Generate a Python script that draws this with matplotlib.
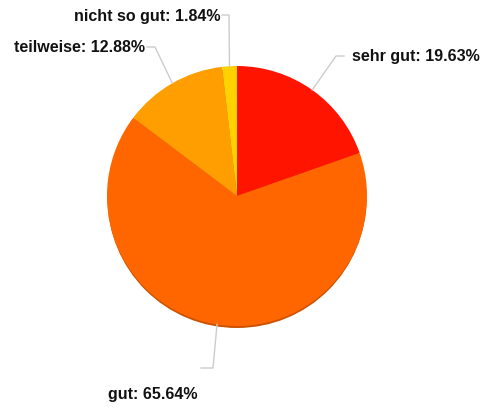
import numpy as np
import matplotlib
matplotlib.use('Agg')
import matplotlib.pyplot as plt
from matplotlib.patches import Circle

labels = ['sehr gut', 'gut', 'teilweise', 'nicht so gut']
values = [19.63, 65.64, 12.88, 1.84]
colors = ['#FF1400', '#FF6600', '#FF9E00', '#FFD200']

# layout in pixel coords (y up), label elbow + text position per slice
W, H = 486, 410
cx, cy, r = 237, 213, 130
elbows = [(336, 353), (213, 41), (155, 362), (229, 394)]
ends = [(344, 353), (201, 41), (147, 362), (222, 394)]
text_pos = [(352, 353, 'left', 'center'), (108, 15, 'left', 'center'),
            (145, 362, 'right', 'center'), (220, 394, 'right', 'center')]

plt.rcParams['font.family'] = ['Liberation Sans', 'DejaVu Sans']

fig = plt.figure(figsize=(W / 100, H / 100), dpi=100)
ax = fig.add_axes([0, 0, 1, 1])

# soft shadow under the pie
ax.add_patch(Circle((cx, cy - 2.5), r - 0.5, color='#CC5200', zorder=0, lw=0))

wedges, _ = ax.pie(values, colors=colors, startangle=90, counterclock=False,
                   center=(cx, cy), radius=r, frame=True,
                   wedgeprops=dict(linewidth=0))
ax.set_xlim(0, W)
ax.set_ylim(0, H)
ax.set_aspect('equal')
ax.axis('off')

for w, lab, val, el, en, tp in zip(wedges, labels, values, elbows, ends, text_pos):
    mid = np.deg2rad((w.theta1 + w.theta2) / 2)
    px, py = cx + r * np.cos(mid), cy + r * np.sin(mid)
    ax.plot([px, el[0], en[0]], [py, el[1], en[1]], color='#CCCCCC', lw=1, zorder=3)
    ax.text(tp[0], tp[1], '{}: {:.2f}%'.format(lab, val), ha=tp[2], va=tp[3],
            fontsize=11.5, fontweight='bold', color='#111111')

fig.savefig('out.png', dpi=100)
